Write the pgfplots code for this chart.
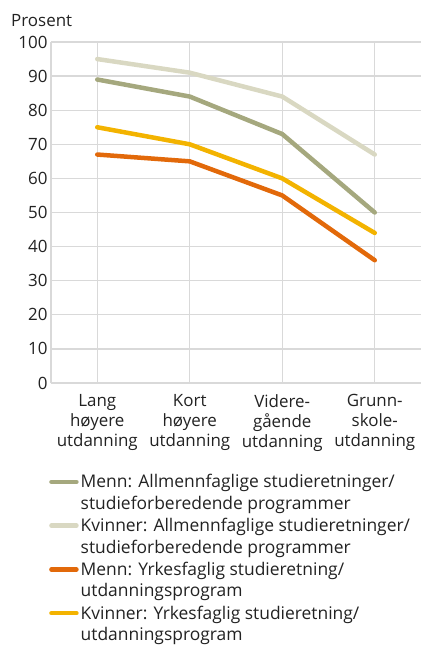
\documentclass[border=0pt]{standalone}
\usepackage{fontspec}
\setmainfont{Open Sans}
\usepackage{pgfplots}
\pgfplotsset{compat=1.18}
\definecolor{gridgray}{HTML}{D9D9D9}
\definecolor{menall}{HTML}{A5A87E}
\definecolor{kvall}{HTML}{D9D8C2}
\definecolor{menyrk}{HTML}{E2690A}
\definecolor{kvyrk}{HTML}{F3B300}
\definecolor{txt}{HTML}{222222}
\begin{document}
\begin{tikzpicture}
\useasboundingbox (-51bp,-265bp) rectangle (370bp,383bp);
\begin{axis}[
  scale only axis, width=370bp, height=341bp,
  at={(0,0)}, anchor=south west,
  xmin=-0.5, xmax=3.5, ymin=0, ymax=100,
  xtick={0,1,2,3},
  xticklabels={{Lang\\høyere\\utdanning},{Kort\\høyere\\utdanning},{Videre-\\gående\\utdanning},{Grunn-\\skole-\\utdanning}},
  ytick={0,10,...,100},
  grid=major,
  major grid style={draw=gridgray, line width=1.3bp},
  axis x line*=bottom, axis y line*=left,
  axis line style={draw=gridgray, line width=1.3bp, -},
  major tick length=0pt,
  tick label style={font=\fontsize{17}{20}\selectfont, text=txt},
  xticklabel style={align=center, yshift=-8bp},
  /pgf/number format/assume math mode=true,
  legend style={draw=none, fill=none, inner sep=0pt, at={(-0.0054,-0.265)}, anchor=north west,
    nodes={align=left, inner sep=1bp, font=\fontsize{17.5}{21.5}\selectfont, text=txt},
    row sep=5.5bp, column sep=1bp},
  legend cell align=left,
  legend image code/.code={\draw[#1, line width=4.5bp, line cap=round] (1bp,10.75bp) -- (26bp,10.75bp);},
  every axis plot/.append style={line width=4.5bp, line cap=round, line join=round},
]
\addplot[menall] coordinates {(0,89) (1,84) (2,73) (3,50)};
\addlegendentry{Menn: Allmennfaglige studieretninger/\\studieforberedende programmer}
\addplot[kvall] coordinates {(0,95) (1,91) (2,84) (3,67)};
\addlegendentry{Kvinner: Allmennfaglige studieretninger/\\studieforberedende programmer}
\addplot[menyrk] coordinates {(0,67) (1,65) (2,55) (3,36)};
\addlegendentry{Menn: Yrkesfaglig studieretning/\\utdanningsprogram}
\addplot[kvyrk] coordinates {(0,75) (1,70) (2,60) (3,44)};
\addlegendentry{Kvinner: Yrkesfaglig studieretning/\\utdanningsprogram}
\end{axis}
\node[anchor=base west, font=\fontsize{17}{20}\selectfont, text=txt, inner sep=0pt] at (-40bp,356bp) {Prosent};
\end{tikzpicture}
\end{document}
